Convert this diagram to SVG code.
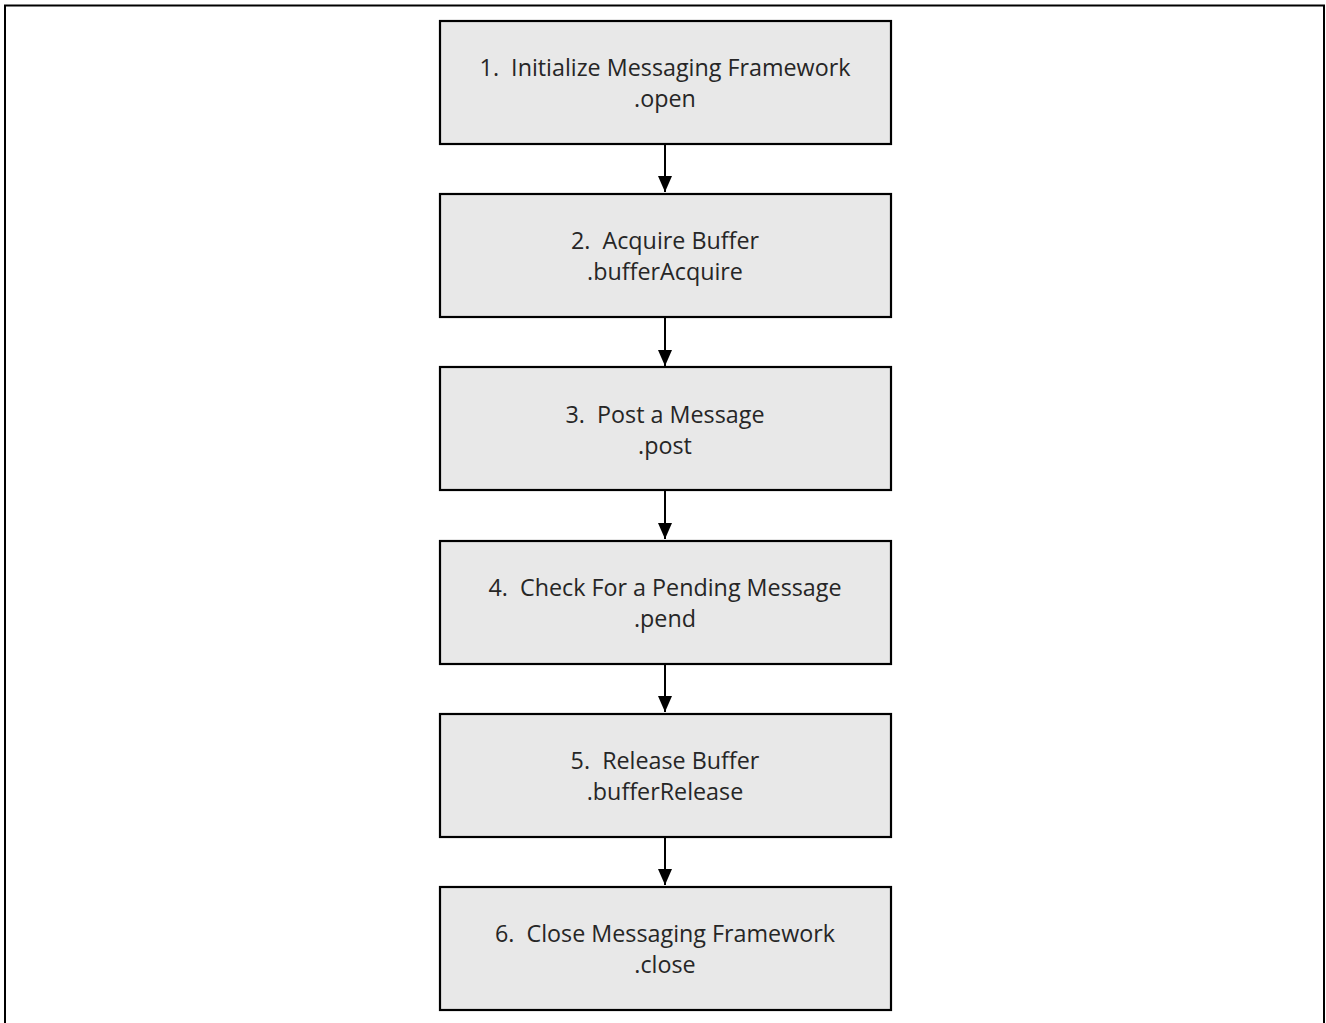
<svg xmlns="http://www.w3.org/2000/svg" width="1326" height="1023" viewBox="0 0 1326 1023">
<defs>
<style>
.box{fill:#e8e8e8;stroke:#000;stroke-width:2.2}
.t{font-family:"Open Sans","Liberation Sans",sans-serif;font-size:23.3px;fill:#262626;text-anchor:middle;white-space:pre}
.c{stroke:#000;stroke-width:2;fill:none}
</style>
<marker id="ah" viewBox="0 0 16 14" refX="16" refY="7" markerWidth="16" markerHeight="14" markerUnits="userSpaceOnUse" orient="auto">
<path d="M0,0 L16,7 L0,14 Z" fill="#000"/>
</marker>
</defs>
<rect width="1326" height="1023" fill="#fff"/>
<path d="M5,1023 V5.5 H1324 V1023" fill="none" stroke="#000" stroke-width="2"/>
<g id="connectors">
<line class="c" x1="665" y1="145" x2="665" y2="192" marker-end="url(#ah)"/>
<line class="c" x1="665" y1="318" x2="665" y2="366" marker-end="url(#ah)"/>
<line class="c" x1="665" y1="491" x2="665" y2="539" marker-end="url(#ah)"/>
<line class="c" x1="665" y1="665" x2="665" y2="712" marker-end="url(#ah)"/>
<line class="c" x1="665" y1="838" x2="665" y2="885" marker-end="url(#ah)"/>
</g>
<g id="n1"><rect class="box" x="440" y="21" width="451" height="123"/>
<text class="t" x="665" y="76" xml:space="preserve">1.  Initialize Messaging Framework</text><text class="t" x="665" y="107">.open</text></g>
<g id="n2"><rect class="box" x="440" y="194" width="451" height="123"/>
<text class="t" x="665" y="249" xml:space="preserve">2.  Acquire Buffer</text><text class="t" x="665" y="280">.bufferAcquire</text></g>
<g id="n3"><rect class="box" x="440" y="367" width="451" height="123"/>
<text class="t" x="665" y="423" xml:space="preserve">3.  Post a Message</text><text class="t" x="665" y="454">.post</text></g>
<g id="n4"><rect class="box" x="440" y="541" width="451" height="123"/>
<text class="t" x="665" y="596" xml:space="preserve">4.  Check For a Pending Message</text><text class="t" x="665" y="627">.pend</text></g>
<g id="n5"><rect class="box" x="440" y="714" width="451" height="123"/>
<text class="t" x="665" y="769" xml:space="preserve">5.  Release Buffer</text><text class="t" x="665" y="800">.bufferRelease</text></g>
<g id="n6"><rect class="box" x="440" y="887" width="451" height="123"/>
<text class="t" x="665" y="942" xml:space="preserve">6.  Close Messaging Framework</text><text class="t" x="665" y="973">.close</text></g>
</svg>
